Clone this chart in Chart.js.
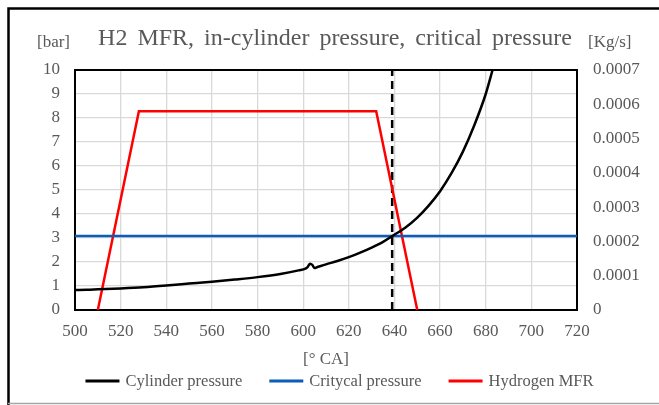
<!DOCTYPE html>
<html>
<head>
<meta charset="utf-8">
<script src="https://cdn.jsdelivr.net/npm/chart.js@4.4.0/dist/chart.umd.min.js"></script>
<style>
  html, body { margin: 0; padding: 0; background: #fff; }
  canvas { display: block; }
</style>
</head>
<body>
<canvas id="myChart" width="659" height="405"></canvas>
<script>
// crank angle [° CA] and cylinder pressure [bar]
const crankAngle = [500, 505, 510, 520, 530, 540, 550, 560, 570, 580, 590, 598, 601, 602, 603, 604, 605, 606, 610, 615, 620, 625, 630, 635, 639, 645, 650, 655, 660, 665, 670, 675, 680, 683, 686];
const cylinderPressure = [0.83, 0.84, 0.86, 0.9, 0.95, 1.02, 1.1, 1.18, 1.27, 1.37, 1.5, 1.65, 1.72, 1.8, 1.93, 1.88, 1.75, 1.78, 1.9, 2.04, 2.2, 2.39, 2.6, 2.84, 3.08, 3.45, 3.85, 4.35, 4.95, 5.7, 6.6, 7.7, 9.0, 10.0, 11.0];

// critical pressure [bar]
const criticalAngle = [500, 720];
const criticalPressure = [3.08, 3.08];

// hydrogen mass flow rate [Kg/s]
const mfrAngle = [510, 528, 632, 650];
const hydrogenMfr = [0, 0.00058, 0.00058, 0];

// dashed marker line
const markerAngle = [639, 639];
const markerLevel = [0, 10];

const xTicks = [500, 520, 540, 560, 580, 600, 620, 640, 660, 680, 700, 720];
const pressureTicks = [0, 1, 2, 3, 4, 5, 6, 7, 8, 9, 10];
const mfrTicks = [0, 0.0001, 0.0002, 0.0003, 0.0004, 0.0005, 0.0006, 0.0007];

const serif = '"Liberation Serif", "Times New Roman", serif';
const textGrey = '#595959';

const pts = (xs, ys) => xs.map((x, i) => ({ x: x, y: ys[i] }));

const data = {
  datasets: [
    {
      label: 'Cylinder pressure',
      data: pts(crankAngle, cylinderPressure),
      borderColor: '#000000',
      borderWidth: 2.5,
      cubicInterpolationMode: 'monotone',
      yAxisID: 'y'
    },
    {
      label: 'Critycal pressure',
      data: pts(criticalAngle, criticalPressure),
      borderColor: '#0A5DBA',
      borderWidth: 2.5,
      yAxisID: 'y'
    },
    {
      label: 'Hydrogen MFR',
      data: pts(mfrAngle, hydrogenMfr),
      borderColor: '#FF0000',
      borderWidth: 2.5,
      yAxisID: 'y1'
    },
    {
      label: 'marker',
      data: pts(markerAngle, markerLevel),
      borderColor: '#000000',
      borderWidth: 2.5,
      borderDash: [8, 5],
      yAxisID: 'y',
      hideInLegend: true
    }
  ]
};

// titles, frames and legend drawn by hand
const decor = {
  id: 'decor',
  beforeDraw(chart) {
    const ctx = chart.ctx;
    ctx.save();
    ctx.fillStyle = '#ffffff';
    ctx.fillRect(0, 0, chart.width, chart.height);
    ctx.restore();
  },
  beforeDatasetsDraw(chart) {
    const { ctx, chartArea: a } = chart;
    ctx.save();
    ctx.strokeStyle = '#000000';
    ctx.lineWidth = 2;
    ctx.strokeRect(a.left, a.top, a.right - a.left, a.bottom - a.top);
    ctx.restore();
  },
  afterDraw(chart) {
    const { ctx, chartArea: a } = chart;
    ctx.save();

    // outer frame (left + top black, bottom grey)
    ctx.strokeStyle = '#000000';
    ctx.lineWidth = 2.5;
    ctx.beginPath();
    ctx.moveTo(8.5, chart.height);
    ctx.lineTo(8.5, 8.5);
    ctx.lineTo(chart.width, 8.5);
    ctx.stroke();
    ctx.strokeStyle = '#a6a6a6';
    ctx.lineWidth = 1.5;
    ctx.beginPath();
    ctx.moveTo(8, 403.5);
    ctx.lineTo(chart.width, 403.5);
    ctx.stroke();

    ctx.fillStyle = textGrey;
    ctx.textBaseline = 'alphabetic';

    ctx.font = '24px ' + serif;
    ctx.textAlign = 'center';
    ctx.wordSpacing = '4px';
    ctx.fillText('H2 MFR, in-cylinder pressure, critical pressure', 335, 45);
    ctx.wordSpacing = '0px';

    ctx.font = '17px ' + serif;
    ctx.textAlign = 'left';
    ctx.fillText('[bar]', 37, 47);
    ctx.fillText('[Kg/s]', 588, 47);

    ctx.textAlign = 'center';
    ctx.fillText('[° CA]', (a.left + a.right) / 2, 364);

    // legend
    ctx.font = '16.5px ' + serif;
    const items = chart.data.datasets.filter(d => !d.hideInLegend);
    const lineLen = 34, gap = 6, itemGap = 27;
    const widths = items.map(d => lineLen + gap + ctx.measureText(d.label).width);
    const total = widths.reduce((s, w) => s + w, 0) + itemGap * (items.length - 1);
    let x = chart.width / 2 + 10 - total / 2;
    const y = 381;
    ctx.textAlign = 'left';
    ctx.textBaseline = 'middle';
    items.forEach((d, i) => {
      ctx.strokeStyle = d.borderColor;
      ctx.lineWidth = 3;
      ctx.beginPath();
      ctx.moveTo(x, y);
      ctx.lineTo(x + lineLen, y);
      ctx.stroke();
      ctx.fillStyle = textGrey;
      ctx.fillText(d.label, x + lineLen + gap, y + 1);
      x += widths[i] + itemGap;
    });

    ctx.restore();
  }
};

const tickFont = { family: serif, size: 17 };

const config = {
  type: 'line',
  data: data,
  options: {
    responsive: false,
    animation: false,
    layout: { padding: { left: 0, right: 0, top: 70, bottom: 0 } },
    elements: {
      point: { radius: 0 },
      line: { tension: 0, fill: false }
    },
    plugins: {
      legend: { display: false },
      title: { display: false },
      tooltip: { enabled: false }
    },
    scales: {
      x: {
        type: 'linear',
        min: 500,
        max: 720,
        afterBuildTicks: s => { s.ticks = xTicks.map(v => ({ value: v })); },
        ticks: { font: tickFont, color: textGrey, padding: 11, maxRotation: 0 },
        grid: { color: '#d9d9d9', lineWidth: 1.3, drawTicks: false },
        border: { display: false },
        afterFit: s => { s.height = 95; }
      },
      y: {
        position: 'left',
        min: 0,
        max: 10,
        afterBuildTicks: s => { s.ticks = pressureTicks.map(v => ({ value: v })); },
        ticks: { font: tickFont, color: textGrey, padding: 15 },
        grid: { color: '#d9d9d9', lineWidth: 1.3, drawTicks: false },
        border: { display: false },
        afterFit: s => { s.width = 75; }
      },
      y1: {
        position: 'right',
        min: 0,
        max: 0.0007,
        afterBuildTicks: s => { s.ticks = mfrTicks.map(v => ({ value: v })); },
        ticks: {
          font: tickFont,
          color: textGrey,
          padding: 16,
          callback: v => (v === 0 ? '0' : v.toFixed(4))
        },
        grid: { display: false, drawTicks: false },
        border: { display: false },
        afterFit: s => { s.width = 82; }
      }
    }
  },
  plugins: [decor]
};

const myChart = new Chart(document.getElementById('myChart'), config);
</script>
</body>
</html>
